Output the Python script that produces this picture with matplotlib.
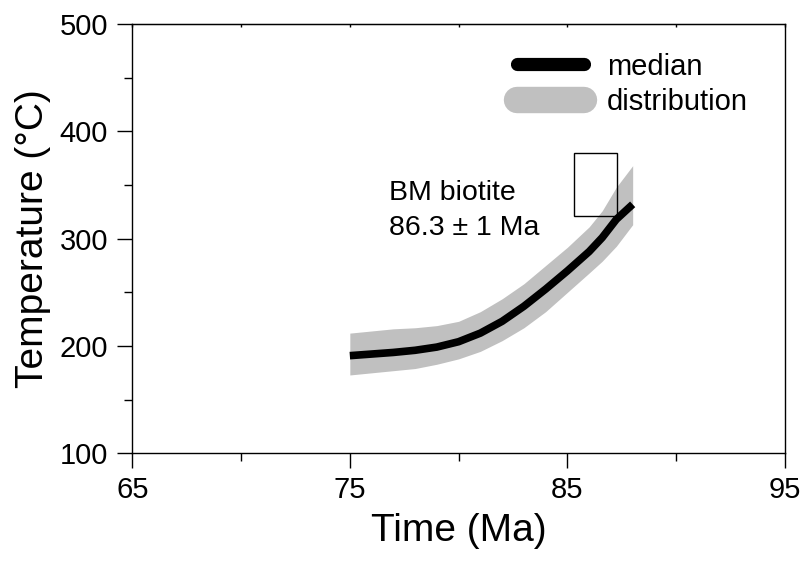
import matplotlib
matplotlib.use('Agg')
import matplotlib.pyplot as plt
from matplotlib.lines import Line2D
from matplotlib.patches import Rectangle

plt.rcParams['font.family'] = ['Liberation Sans', 'DejaVu Sans']

# time-temperature path (Ma, degC)
time = [75, 76, 77, 78, 79, 80, 81, 82, 83, 84, 85, 86, 86.6, 87.25, 88]
median = [191, 192.5, 194, 196, 199, 204, 212, 223, 237, 253, 270, 288, 301, 318, 332]
upper = [212, 214, 216, 217, 219, 223, 232, 244, 258, 275, 292, 311, 326, 348, 368]
lower = [173, 175, 177, 179, 183, 188, 195, 205, 217, 232, 250, 268, 279, 293, 313]

# biotite age constraint
bio_age = 86.3
bio_err = 1.0
bio_tmin, bio_tmax = 321, 380

grey = '#c0c0c0'

fig = plt.figure(figsize=(8.06, 5.67), dpi=100)
ax = fig.add_axes([0.1641, 0.2005, 0.8098, 0.7571])

ax.fill_between(time, lower, upper, color=grey, lw=0)
ax.plot(time, median, color='black', lw=5.5, solid_capstyle='butt', solid_joinstyle='round')

ax.add_patch(Rectangle((bio_age - bio_err, bio_tmin), 2 * bio_err, bio_tmax - bio_tmin,
                       fill=False, edgecolor='black', lw=1))
ax.text(76.8, 343, 'BM biotite', fontsize=20.5, va='center', ha='left')
ax.text(76.8, 310, '86.3 \u00b1 1 Ma', fontsize=20.5, va='center', ha='left')

handles = [Line2D([], [], color='black', lw=9.5, solid_capstyle='round'),
           Line2D([], [], color=grey, lw=19, solid_capstyle='round')]
ax.legend(handles, ['median', 'distribution'], loc='upper left',
          bbox_to_anchor=(0.553, 0.988), frameon=False, fontsize=21,
          handlelength=2.3, handletextpad=0.8, labelspacing=0.25, borderpad=0.3)

ax.set_xlim(65, 95)
ax.set_ylim(100, 500)
ax.set_xticks([65, 75, 85, 95])
ax.set_xticks([70, 80, 90], minor=True)
ax.set_yticks([100, 200, 300, 400, 500])
ax.set_yticks([150, 250, 350, 450], minor=True)

ax.tick_params(which='major', direction='out', length=10.5, width=1, labelsize=21,
               top=False, right=False)
ax.tick_params(axis='x', which='major', pad=6)
ax.tick_params(axis='y', which='major', pad=7)
ax.tick_params(which='minor', direction='out', length=6, width=1, top=False, right=False)

# small mirrored ticks on the top axis
ax2 = ax.secondary_xaxis('top')
ax2.set_xticks([65, 70, 75, 80, 85, 90, 95])
ax2.tick_params(direction='in', length=2, width=1, labeltop=False)

for s in ax.spines.values():
    s.set_linewidth(1)

ax.set_xlabel('Time (Ma)', fontsize=28, labelpad=6)
ax.set_ylabel('Temperature (\u00b0C)', fontsize=28, labelpad=6)

fig.savefig('out.png', dpi=100)
